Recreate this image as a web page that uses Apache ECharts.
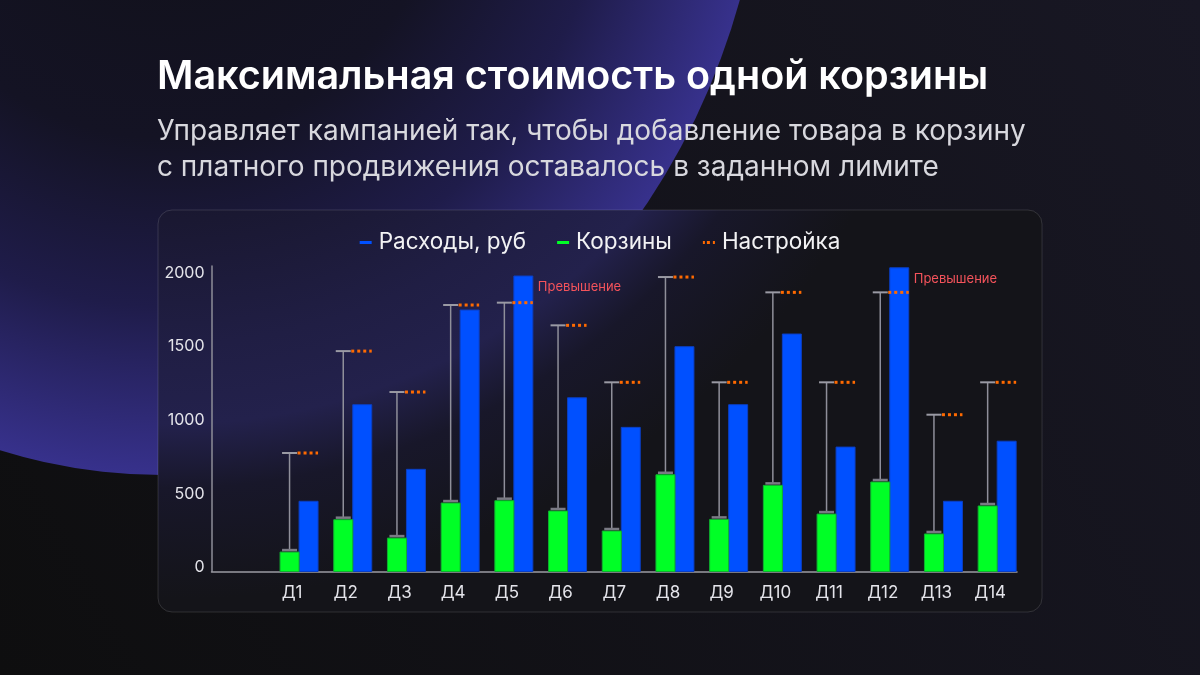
<!DOCTYPE html>
<html>
<head>
<meta charset="utf-8">
<script src="https://cdn.jsdelivr.net/npm/echarts@6/dist/echarts.min.js"></script>
<style>
html, body { margin: 0; padding: 0; background: #0f0f11; }
#chart { width: 1200px; height: 675px; }
</style>
</head>
<body>
<div id="chart"></div>
<script>
// дни кампании
var days = ['Д1', 'Д2', 'Д3', 'Д4', 'Д5', 'Д6', 'Д7', 'Д8', 'Д9', 'Д10', 'Д11', 'Д12', 'Д13', 'Д14'];
// расходы, руб (синие)
var spend = [477, 1133, 694, 1776, 2007, 1180, 979, 1527, 1133, 1613, 845, 2063, 477, 885];
// корзины (зелёные)
var baskets = [132, 352, 227, 465, 481, 411, 275, 657, 354, 585, 390, 608, 255, 445];
// настройка - лимит
var setting = [805, 1497, 1219, 1810, 1826, 1672, 1285, 2000, 1285, 1896, 1285, 1896, 1065, 1285];
var yTicks = [0, 500, 1000, 1500, 2000];

var FONT = 'Inter, "Noto Sans", sans-serif';
var BAR_W = 19;
var SHIFT = 7; // правый край зелёного столбца относительно центра категории

var chart = echarts.init(document.getElementById('chart'));

function renderSpend(params, api) {
	var base = api.coord([api.value(0), 0]);
	var top = api.coord([api.value(0), api.value(1)]);
	var x = base[0] + SHIFT;
	var children = [{
		type: 'rect',
		shape: { x: x, y: top[1], width: BAR_W, height: base[1] - top[1] },
		style: { fill: '#0050ff', stroke: '#0b3fc4', lineWidth: 1 }
	}];
	if (api.value(1) > api.value(2)) {
		children.push({
			type: 'text',
			style: {
				text: 'Превышение', x: x + BAR_W + 5, y: top[1] + 11,
				fill: '#f4535b', font: '13px ' + FONT, verticalAlign: 'middle'
			}
		});
	}
	return { type: 'group', children: children };
}

function renderBaskets(params, api) {
	var base = api.coord([api.value(0), 0]);
	var top = api.coord([api.value(0), api.value(1)]);
	var x = base[0] + SHIFT - BAR_W;
	return {
		type: 'rect',
		shape: { x: x, y: top[1], width: BAR_W, height: base[1] - top[1] },
		style: { fill: '#00ff26', stroke: '#10b030', lineWidth: 1 }
	};
}

function renderSetting(params, api) {
	var base = api.coord([api.value(0), 0]);
	var low = api.coord([api.value(0), api.value(1)]);
	var high = api.coord([api.value(0), api.value(2)]);
	var cx = base[0] + SHIFT - BAR_W / 2;
	var lowY = low[1] - 2;
	return {
		type: 'group',
		children: [{
			type: 'line',
			shape: { x1: cx, y1: lowY, x2: cx, y2: high[1] },
			style: { stroke: '#8f8f9a', lineWidth: 1.5 }
		}, {
			type: 'line',
			shape: { x1: cx - 7.5, y1: lowY, x2: cx + 7.5, y2: lowY },
			style: { stroke: '#7a7a84', lineWidth: 2.5 }
		}, {
			type: 'line',
			shape: { x1: cx - 7.5, y1: high[1], x2: cx + 7.5, y2: high[1] },
			style: { stroke: '#9a9aa4', lineWidth: 2 }
		}, {
			type: 'line',
			shape: { x1: cx + 8, y1: high[1], x2: base[0] + SHIFT + BAR_W, y2: high[1] },
			style: { stroke: '#ff6a00', lineWidth: 3, lineDash: [3, 3] }
		}]
	};
}

var axisCats = [''].concat(days);

var option = {
	backgroundColor: {
		type: 'linear', x: 0, y: 1, x2: 1, y2: 0,
		colorStops: [{ offset: 0, color: '#0e0e0f' }, { offset: 1, color: '#181724' }]
	},
	textStyle: { fontFamily: FONT },
	graphic: [{
		type: 'circle',
		z: -10,
		x: 162, y: -200,
		scaleX: 605 / 675,
		shape: { cx: 0, cy: 0, r: 675 },
		style: {
			fill: {
				type: 'radial', x: 0.5, y: 0.5, r: 0.5,
				colorStops: [
					{ offset: 0, color: '#101016' },
					{ offset: 0.5, color: '#141324' },
					{ offset: 0.75, color: '#1f1c4a' },
					{ offset: 1, color: '#37318c' }
				]
			}
		}
	}, {
		type: 'rect',
		z: -9,
		shape: { x: 158, y: 210, width: 884, height: 402, r: 14 },
		style: {
			fill: {
				type: 'radial', x: 170, y: -200, r: 800, global: true,
				colorStops: [
					{ offset: 0, color: '#15141e' },
					{ offset: 0.5, color: '#19172f' },
					{ offset: 0.68, color: '#201e44' },
					{ offset: 0.78, color: '#23214c' },
					{ offset: 0.86, color: '#18172a' },
					{ offset: 1, color: '#141419' }
				]
			},
			stroke: 'rgba(255,255,255,0.13)',
			lineWidth: 1
		}
	}, {
		type: 'text',
		z: 5,
		x: 157, y: 77,
		style: {
			text: 'Максимальная стоимость одной корзины',
			fill: '#ffffff', font: '600 39.5px ' + FONT, verticalAlign: 'middle'
		}
	}, {
		type: 'text',
		z: 5,
		x: 157, y: 113,
		style: {
			text: 'Управляет кампанией так, чтобы добавление товара в корзину\nс платного продвижения оставалось в заданном лимите',
			fill: '#d8d8de', font: '400 28px ' + FONT, lineHeight: 36.5, verticalAlign: 'top'
		}
	}],
	legend: {
		left: 'center',
		top: 226,
		itemWidth: 12,
		itemHeight: 3,
		itemGap: 31,
		textStyle: { color: '#f2f2f4', fontSize: 22.5, fontFamily: FONT, padding: [0, 0, 0, 2] },
		data: [
			{ name: 'Расходы, руб', icon: 'rect', itemStyle: { color: '#0050ff' } },
			{ name: 'Корзины', icon: 'rect', itemStyle: { color: '#00ff26' } },
			{ name: 'Настройка', icon: 'path://M0,0h2v3h-2zM4,0h3v3h-3zM10,0h2v3h-2z', itemStyle: { color: '#ff6a00' } }
		]
	},
	grid: { left: 211.5, right: 183, top: 266, bottom: 103.5 },
	xAxis: {
		type: 'category',
		data: axisCats,
		boundaryGap: true,
		axisLine: { lineStyle: { color: '#9a9aa2', width: 1.5 } },
		axisTick: { show: false },
		axisLabel: { color: '#e4e4ea', fontSize: 17, margin: 13, fontFamily: FONT }
	},
	yAxis: {
		type: 'value',
		min: 0,
		max: 2075,
		interval: 500,
		splitLine: { show: false },
		axisLine: { show: true, lineStyle: { color: '#8e8e98', width: 1.5 } },
		axisTick: { show: false },
		axisLabel: {
			color: '#e4e4ea', fontSize: 16, margin: 7, fontFamily: FONT,
			showMaxLabel: false, verticalAlign: 'bottom', lineHeight: 8,
			formatter: function (v) { return yTicks.indexOf(v) >= 0 ? String(v) : ''; }
		}
	},
	series: [{
		name: 'Расходы, руб',
		type: 'custom',
		renderItem: renderSpend,
		itemStyle: { color: '#0050ff' },
		encode: { x: 0, y: 1 },
		data: days.map(function (d, i) { return [d, spend[i], setting[i]]; }),
		z: 2
	}, {
		name: 'Корзины',
		type: 'custom',
		renderItem: renderBaskets,
		itemStyle: { color: '#00ff26' },
		encode: { x: 0, y: 1 },
		data: days.map(function (d, i) { return [d, baskets[i]]; }),
		z: 3
	}, {
		name: 'Настройка',
		type: 'custom',
		renderItem: renderSetting,
		itemStyle: { color: '#ff6a00' },
		encode: { x: 0, y: [1, 2] },
		data: days.map(function (d, i) { return [d, baskets[i], setting[i]]; }),
		z: 4
	}]
};

chart.setOption(option);
</script>
</body>
</html>
